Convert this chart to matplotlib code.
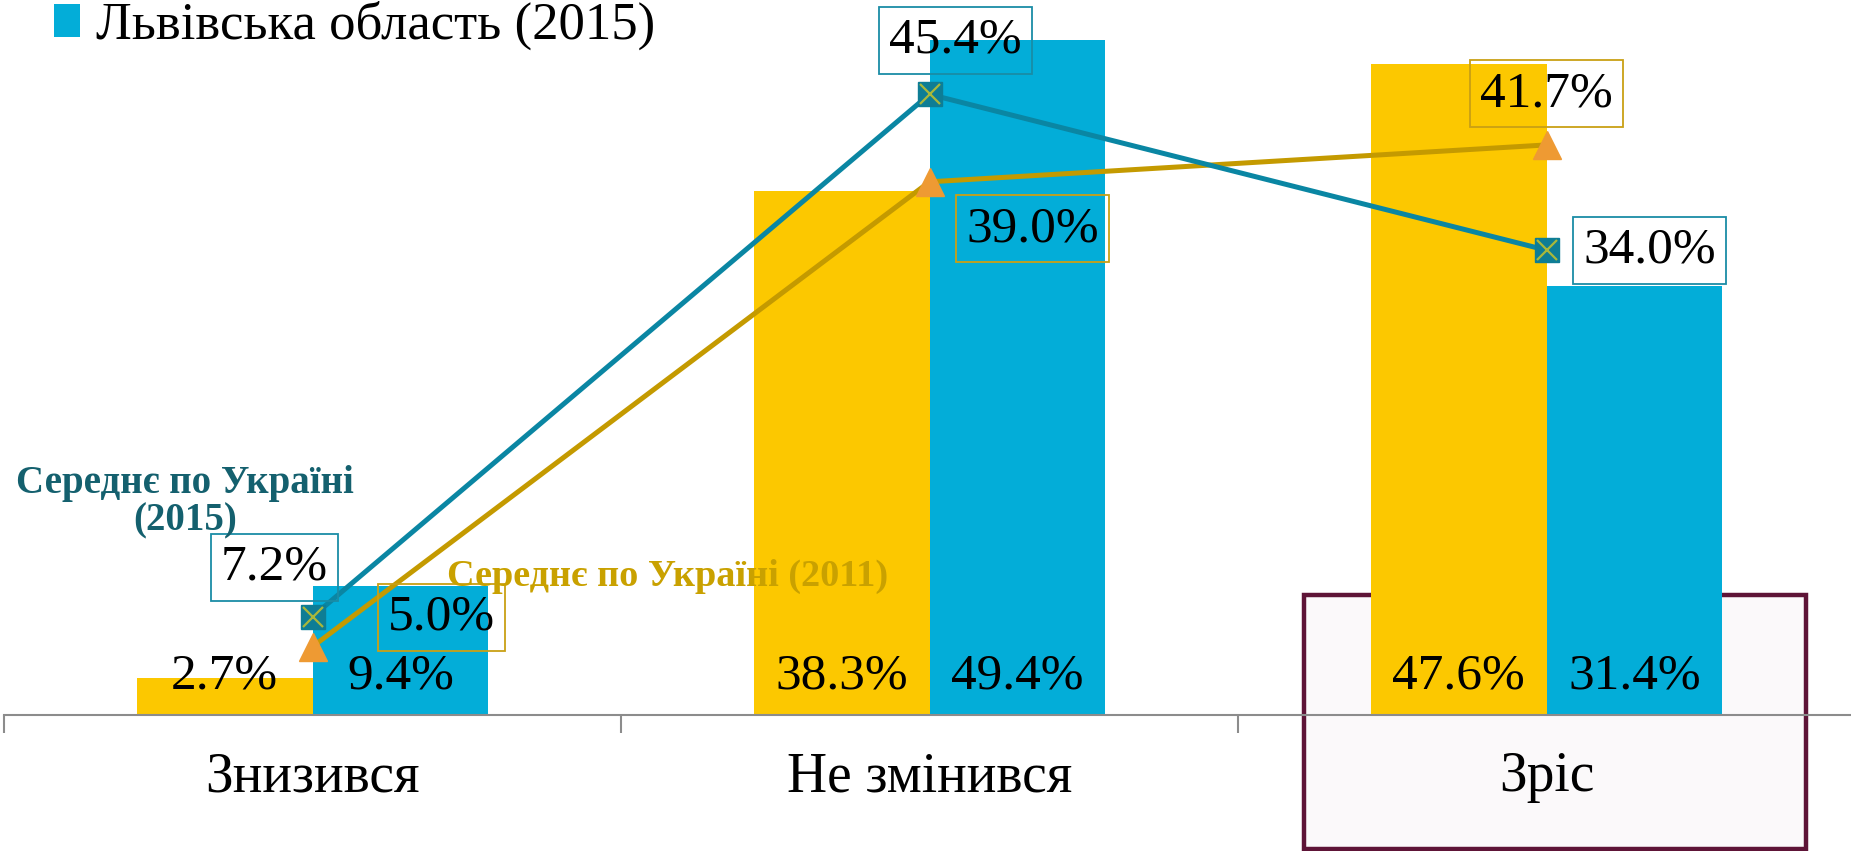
import matplotlib
matplotlib.use("Agg")
import matplotlib.pyplot as plt
from matplotlib.patches import Rectangle

# дані з діаграми
categories = ["Знизився", "Не змінився", "Зріс"]
lviv_2011 = [2.7, 38.3, 47.6]
lviv_2015 = [9.4, 49.4, 31.4]
ukr_2015 = [7.2, 45.4, 34.0]
ukr_2011 = [5.0, 39.0, 41.7]
legend_label = "Львівська область (2015)"
ukr_2015_label = "Середнє по Україні\n(2015)"
ukr_2011_label = "Середнє по Україні (2011)"

YELLOW = "#FCC800"
BLUE = "#03ADD8"
TEAL = "#0A86A3"
GOLD = "#C49A00"
SERIF = ["Liberation Serif", "DejaVu Serif"]

plt.rcParams["font.family"] = SERIF

fig = plt.figure(figsize=(18.51, 8.51), dpi=100)
ax = fig.add_axes([4 / 1851, 136 / 851, 1851 / 1851, 715 / 851])
ax.patch.set_alpha(0)

# рамка навколо "Зріс" (під стовпчиками)
ax.add_patch(Rectangle((1304 / 1851, 2 / 851), 502 / 1851, 254 / 851,
                       transform=fig.transFigure, facecolor="#FBF9FA",
                       edgecolor="#5E1437", linewidth=3.2, zorder=0.5, clip_on=False))

x = list(range(len(categories)))
w = 0.285
ax.bar([i - w / 2 for i in x], lviv_2011, w, color=YELLOW, zorder=1)
bars15 = ax.bar([i + w / 2 for i in x], lviv_2015, w, color=BLUE, zorder=1)

for i in x:
    ax.text(i - w / 2, 2.85, f"{lviv_2011[i]:.1f}%", ha="center", va="center", fontsize=37, zorder=6)
    ax.text(i + w / 2, 2.85, f"{lviv_2015[i]:.1f}%", ha="center", va="center", fontsize=37, zorder=6)

ax.plot(x, ukr_2011, color=GOLD, lw=3.6, zorder=3, marker="^", markersize=20,
        markerfacecolor="#EE9A33", markeredgecolor="#EE9A33")
ax.plot(x, ukr_2015, color=TEAL, lw=3.6, zorder=4, marker="s", markersize=17,
        markerfacecolor="#0E7D95", markeredgecolor="#0E7D95")
ax.plot(x, ukr_2015, ls="none", marker="x", markersize=15, markeredgewidth=1.6,
        color="#A9B83A", zorder=5)

off_2015 = [(-38, 49), (26, 54), (103, 0)]
off_2011 = [(129, 29), (103, -47), (0, 51)]
for i in x:
    ax.annotate(f"{ukr_2015[i]:.1f}%", (i, ukr_2015[i]), xytext=off_2015[i],
                textcoords="offset pixels", ha="center", va="center", fontsize=37, zorder=6,
                bbox=dict(boxstyle="square,pad=0.2", fc="none", ec="#1A8CA6", lw=1.3))
    ax.annotate(f"{ukr_2011[i]:.1f}%", (i, ukr_2011[i]), xytext=off_2011[i],
                textcoords="offset pixels", ha="center", va="center", fontsize=37, zorder=6,
                bbox=dict(boxstyle="square,pad=0.2", fc="none", ec="#C9A015", lw=1.3))

fig.text(185 / 1851, 1 - 502 / 851, ukr_2015_label, ha="center", va="center",
         fontsize=28, fontweight="bold", color="#14606E", linespacing=1.0)
fig.text(447 / 1851, 1 - 576 / 851, ukr_2011_label, ha="left", va="center",
         fontsize=27.5, fontweight="bold", color="#C9A100")

ax.set_xlim(-0.5, 2.5)
ax.set_ylim(0, 52.3)
ax.set_yticks([])
ax.set_xticks(x)
ax.set_xticklabels(categories, fontsize=40)
ax.set_xticks([-0.5, 0.5, 1.5, 2.5], minor=True)
ax.tick_params(axis="x", which="major", length=0, pad=26)
ax.tick_params(axis="x", which="minor", length=13, width=1.5, color="#8C8C8C")
for s in ["top", "right", "left"]:
    ax.spines[s].set_visible(False)
ax.spines["bottom"].set_color("#8C8C8C")
ax.spines["bottom"].set_linewidth(1.5)
ax.spines["bottom"].set_zorder(2)

ax.legend([bars15], [legend_label], loc="upper left", bbox_to_anchor=(54 / 1851, 1 - 1 / 851),
          bbox_transform=fig.transFigure, frameon=False, fontsize=38,
          handlelength=0.5, handleheight=0.6, handletextpad=0.3, borderpad=0, borderaxespad=0)

fig.savefig("out.png", dpi=100)
